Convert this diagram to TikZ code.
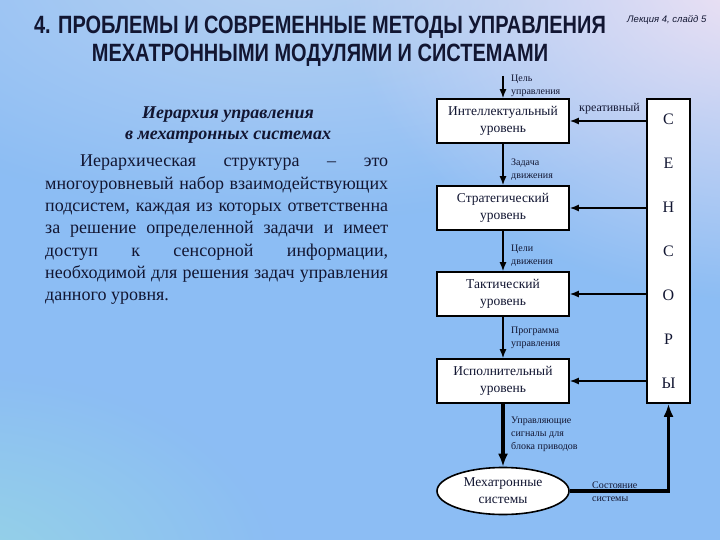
\documentclass[tikz,border=0pt]{standalone}
\usepackage{fontspec}
\usepackage{graphicx}
\setmainfont{Liberation Serif}
\newfontfamily\sansf{Liberation Sans}
\usetikzlibrary{shapes.geometric,arrows.meta,fadings}
\definecolor{bgbase}{RGB}{140,189,244}
\definecolor{bgtop}{RGB}{185,210,242}
\definecolor{pinkc}{RGB}{244,228,243}
\definecolor{cyanc}{RGB}{150,212,230}
\definecolor{textc}{RGB}{18,22,50}
\tikzfading[name=fadeout, inner color=transparent!0, outer color=transparent!100]
\newcommand\myparspaces{\spaceskip=0.25em plus 1em minus 0.15em\relax}
\begin{document}
\begin{tikzpicture}[x=1pt,y=-1pt,
  lvl/.style={draw=black, line width=1.6pt, fill=white, minimum width=132pt, minimum height=44pt, inner sep=0pt, align=center, font=\fontsize{13.5}{17}\selectfont, text=textc},
  lab/.style={font=\fontsize{10}{13}\selectfont, align=left, anchor=west, inner sep=0pt, text=textc},
  arr/.style={-{Latex[length=9pt,width=7pt]}, line width=1.5pt, draw=black},
  thickarr/.style={-{Latex[length=13pt,width=10pt]}, line width=3.2pt, draw=black},
  titlef/.style={font=\sansf\bfseries\fontsize{25}{30}\selectfont, text=textc, inner sep=0pt}]
\useasboundingbox (0,0) rectangle (720,540);
% background
\fill[bgbase] (0,0) rectangle (720,540);
\fill[bgtop, path fading=fadeout] (300,-40) ellipse (520 and 260);
\fill[cyanc, path fading=fadeout] (-40,570) ellipse (320 and 200);
\fill[pinkc, path fading=fadeout] (760,-30) ellipse (420 and 330);
% title
\node[titlef] (t1) at (320,27) {\scalebox{0.80}[1]{4. ПРОБЛЕМЫ И СОВРЕМЕННЫЕ МЕТОДЫ УПРАВЛЕНИЯ}};
\node[titlef] (t2) at (320,55) {\scalebox{0.80}[1]{МЕХАТРОННЫМИ МОДУЛЯМИ И СИСТЕМАМИ}};
\node[font=\sansf\itshape\fontsize{9.5}{11}\selectfont, anchor=west, inner sep=0pt, text=textc] (lec) at (627,20) {Лекция 4, слайд 5};
% left text
\node[font=\bfseries\itshape\fontsize{18}{21.5}\selectfont, align=center, text=textc, inner sep=0pt] (hd) at (228,125) {Иерархия управления\\в мехатронных системах};
\node[anchor=north west, text width=343pt, align=justify, inner sep=0pt, text=textc, font=\fontsize{18}{22.3}\selectfont] (par) at (45,155)
 {\myparspaces\hspace*{35pt}Иерархическая структура -- это\linebreak многоуровневый набор взаимодействующих\linebreak подсистем, каждая из которых ответственна\linebreak за решение определенной задачи и имеет\linebreak доступ к сенсорной информации,\linebreak необходимой для решения задач управления\linebreak данного уровня.};
% diagram
\node[lvl] (b1) at (503,121) {Интеллектуальный\\уровень};
\node[lvl] (b2) at (503,208) {Стратегический\\уровень};
\node[lvl] (b3) at (503,294) {Тактический\\уровень};
\node[lvl] (b4) at (503,381) {Исполнительный\\уровень};
\node[ellipse, draw=black, line width=1.6pt, fill=white, minimum width=132pt, minimum height=47pt, inner sep=0pt, align=center, font=\fontsize{13.5}{17}\selectfont, text=textc] (mech) at (503,491) {Мехатронные\\системы};
\node[draw=black, line width=1.6pt, fill=white, minimum width=43pt, minimum height=304pt, inner sep=0pt, align=center, font=\fontsize{16}{44}\selectfont, text=textc] (sens) at (668.5,251) {С\\Е\\Н\\С\\О\\Р\\Ы};
\coordinate (top) at (503,76);
\draw[arr] (top) -- (b1);
\draw[arr] (b1) -- (b2);
\draw[arr] (b2) -- (b3);
\draw[arr] (b3) -- (b4);
\draw[thickarr] (b4) -- (mech);
\draw[arr] (sens.west |- b1.east) -- (b1.east);
\draw[arr] (sens.west |- b2.east) -- (b2.east);
\draw[arr] (sens.west |- b3.east) -- (b3.east);
\draw[arr] (sens.west |- b4.east) -- (b4.east);
\draw[thickarr] (mech.east) -- (sens.south |- mech.east) -- (sens.south);
% labels
\node[lab] (l0) at (511,86) {Цель\\управления};
\node[lab] (l1) at (511,169.5) {Задача\\движения};
\node[lab] (l2) at (511,256) {Цели\\движения};
\node[lab] (l3) at (511,338) {Программа\\управления};
\node[lab] (l4) at (511,434) {Управляющие\\сигналы для\\блока приводов};
\node[lab] (l5) at (592,491.5) {Состояние\\системы};
\node[lab, font=\fontsize{12}{13}\selectfont] (l6) at (579,109) {креативный};
\end{tikzpicture}
\end{document}
